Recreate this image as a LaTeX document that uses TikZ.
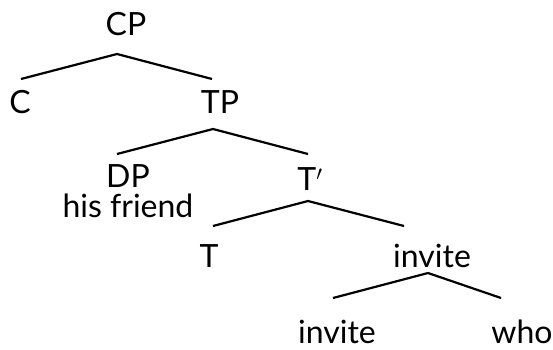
\documentclass[tikz,border=0pt]{standalone}
\usepackage{fontspec}
\setmainfont{Lato}

\tikzset{
  cat/.style={anchor=base, inner sep=0pt, align=center,
    font=\fontsize{32}{30}\selectfont},
  branch/.style={line width=2.2pt}
}

\begin{document}
\begin{tikzpicture}[x=1pt, y=-1pt]
  \useasboundingbox (0, 0) rectangle (553, 349);

  % labels
  \node[cat] (cp) at (126, 35) {CP};
  \node[cat] (c) at (20, 113) {C};
  \node[cat] (tp) at (220, 113) {TP};
  \node[cat] (dp) at (128, 217) {DP\\his friend};
  \node[cat] (tbar) at (310, 190) {T$'$};
  \node[cat] (t) at (209, 267) {T};
  \node[cat] (vp) at (432, 267) {invite};
  \node[cat] (v) at (337, 343) {invite};
  \node[cat] (who) at (522, 343) {who};

  % where the branches meet and end
  \coordinate (cp-j) at (117, 54);
  \coordinate (c-e) at (21, 79);
  \coordinate (tp-e) at (212, 79);
  \coordinate (tp-j) at (213, 129);
  \coordinate (dp-e) at (117, 154);
  \coordinate (tbar-e) at (308, 154);
  \coordinate (tbar-j) at (308, 201);
  \coordinate (t-e) at (213, 226);
  \coordinate (vp-e) at (404, 226);
  \coordinate (vp-j) at (428, 273);
  \coordinate (v-e) at (333, 298);
  \coordinate (who-e) at (501, 298);

  \draw[branch] (c-e) -- (cp-j) -- (tp-e);
  \draw[branch] (dp-e) -- (tp-j) -- (tbar-e);
  \draw[branch] (t-e) -- (tbar-j) -- (vp-e);
  \draw[branch] (v-e) -- (vp-j) -- (who-e);
\end{tikzpicture}
\end{document}
